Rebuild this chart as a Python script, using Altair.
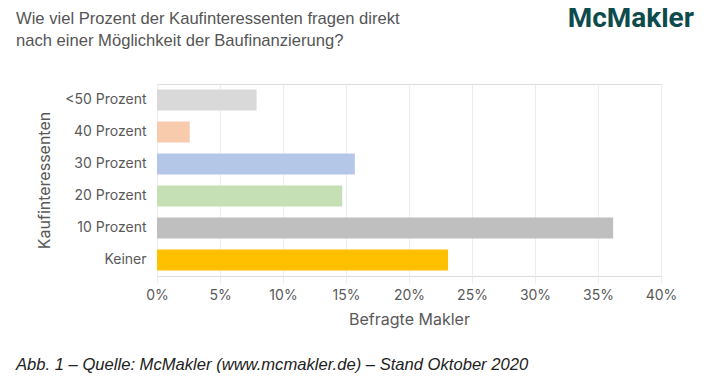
import altair as alt
import pandas as pd

categories = ["<50 Prozent", "40 Prozent", "30 Prozent", "20 Prozent", "10 Prozent", "Keiner"]
values = [7.9, 2.6, 15.7, 14.7, 36.2, 23.1]
colors = ["#d9d9d9", "#f8cbad", "#b4c7e7", "#c5e0b4", "#bfbfbf", "#ffc000"]
x_ticks = [0, 5, 10, 15, 20, 25, 30, 35, 40]

title_lines = ["Wie viel Prozent der Kaufinteressenten fragen direkt",
               "nach einer Möglichkeit der Baufinanzierung?"]
logo_text = "McMakler"
footnote = "Abb. 1 – Quelle: McMakler (www.mcmakler.de) – Stand Oktober 2020"

df = pd.DataFrame({"cat": categories, "val": [v / 100 for v in values], "color": colors})

bars = alt.Chart(df).mark_bar().encode(
    y=alt.Y("cat:N", sort=categories,
            scale=alt.Scale(paddingInner=0.34, paddingOuter=0.17),
            axis=alt.Axis(title="Kaufinteressenten", titleFont="Inter", titleFontSize=16,
                          titleFontWeight="normal", titleColor="#595959", titlePadding=12,
                          labelFont="Inter", labelFontSize=14, labelColor="#595959",
                          labelPadding=11, ticks=False, domain=False, grid=False)),
    x=alt.X("val:Q", scale=alt.Scale(domain=[0, 0.4], nice=False),
            axis=alt.Axis(title="Befragte Makler", format=".0%", values=[t / 100 for t in x_ticks],
                          titleFont="Inter", titleFontSize=16, titleFontWeight="normal",
                          titleColor="#595959", titlePadding=9, labelFlush=False,
                          labelFont="Inter", labelFontSize=14, labelColor="#595959",
                          labelPadding=5, tickColor="#ececec", tickSize=7,
                          domain=False, gridColor="#ececec", gridWidth=1)),
    color=alt.Color("color:N", scale=None, legend=None),
)

title_df = pd.DataFrame({"t": title_lines, "y": [-65, -43]})
title = alt.Chart(title_df).mark_text(
    align="left", baseline="middle", font="Liberation Sans", fontSize=16.6, color="#555555"
).encode(x=alt.value(-141), y=alt.Y("y:Q", scale=None, axis=None), text="t:N")

logo = alt.Chart(pd.DataFrame({"t": [logo_text]})).mark_text(
    align="right", baseline="middle", font="Roboto", fontWeight="bold", fontSize=28, color="#0e4b4d"
).encode(x=alt.value(537), y=alt.value(-65), text="t:N")

foot = alt.Chart(pd.DataFrame({"t": [footnote]})).mark_text(
    align="left", baseline="middle", font="Liberation Sans", fontStyle="italic",
    fontSize=16.6, color="#222222"
).encode(x=alt.value(-141), y=alt.value(281), text="t:N")

chart = alt.layer(bars, title, logo, foot).properties(
    width=504, height=192,
    autosize=alt.AutoSizeParams(type="none"),
    padding={"left": 149, "top": 76, "right": 41, "bottom": 100},
).configure_view(stroke=None).configure(background="white")

chart.save("out.html", embed_options={"renderer": "svg", "actions": False})
